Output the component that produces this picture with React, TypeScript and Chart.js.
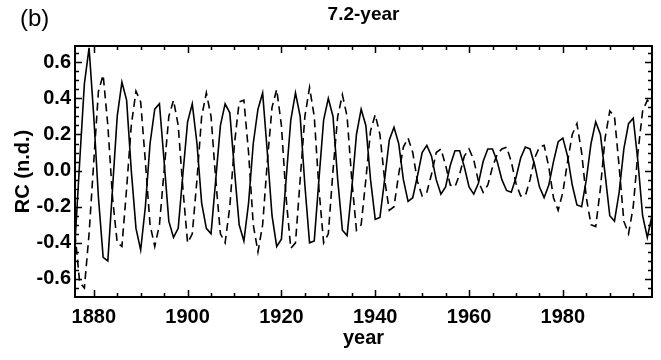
import { useEffect, useRef } from "react";
import { Chart, registerables } from "chart.js";

Chart.register(...registerables);

// Annual sample years of the reconstructed component
const years = [
  1876, 1877, 1878, 1879, 1880, 1881, 1882, 1883, 1884, 1885,
  1886, 1887, 1888, 1889, 1890, 1891, 1892, 1893, 1894, 1895,
  1896, 1897, 1898, 1899, 1900, 1901, 1902, 1903, 1904, 1905,
  1906, 1907, 1908, 1909, 1910, 1911, 1912, 1913, 1914, 1915,
  1916, 1917, 1918, 1919, 1920, 1921, 1922, 1923, 1924, 1925,
  1926, 1927, 1928, 1929, 1930, 1931, 1932, 1933, 1934, 1935,
  1936, 1937, 1938, 1939, 1940, 1941, 1942, 1943, 1944, 1945,
  1946, 1947, 1948, 1949, 1950, 1951, 1952, 1953, 1954, 1955,
  1956, 1957, 1958, 1959, 1960, 1961, 1962, 1963, 1964, 1965,
  1966, 1967, 1968, 1969, 1970, 1971, 1972, 1973, 1974, 1975,
  1976, 1977, 1978, 1979, 1980, 1981, 1982, 1983, 1984, 1985,
  1986, 1987, 1988, 1989, 1990, 1991, 1992, 1993, 1994, 1995,
  1996, 1997, 1998, 1999,
];

// First RC of the 7.2-year pair (solid)
const rcSolid = [
  -0.40, 0.05, 0.48, 0.68, 0.30, -0.15, -0.48, -0.50, -0.10, 0.30,
  0.49, 0.39, 0.00, -0.32, -0.44, -0.20, 0.15, 0.34, 0.37, 0.05,
  -0.28, -0.37, -0.32, -0.02, 0.27, 0.37, 0.15, -0.18, -0.32, -0.35,
  -0.05, 0.25, 0.37, 0.32, 0.00, -0.30, -0.39, -0.18, 0.15, 0.34,
  0.43, 0.10, -0.25, -0.42, -0.38, -0.05, 0.28, 0.43, 0.30, -0.08,
  -0.40, -0.39, -0.05, 0.28, 0.40, 0.30, -0.05, -0.33, -0.36, -0.10,
  0.20, 0.34, 0.25, -0.05, -0.27, -0.26, -0.05, 0.17, 0.24, 0.15,
  -0.05, -0.17, -0.15, -0.03, 0.10, 0.14, 0.08, -0.05, -0.13, -0.09,
  0.03, 0.11, 0.11, 0.02, -0.09, -0.13, -0.07, 0.05, 0.12, 0.12,
  0.05, -0.05, -0.11, -0.12, -0.04, 0.07, 0.13, 0.12, 0.03, -0.09,
  -0.15, -0.08, 0.05, 0.16, 0.18, 0.08, -0.08, -0.19, -0.20, -0.05,
  0.15, 0.27, 0.20, -0.02, -0.25, -0.28, -0.12, 0.12, 0.26, 0.29,
  0.05, -0.25, -0.37, -0.25,
];

// Second RC of the pair (dashed)
const rcDashed = [
  -0.35, -0.62, -0.65, -0.35, 0.05, 0.44, 0.53, 0.25, -0.15, -0.40,
  -0.42, -0.10, 0.25, 0.44, 0.38, 0.05, -0.30, -0.42, -0.30, 0.00,
  0.30, 0.39, 0.25, -0.10, -0.40, -0.35, -0.05, 0.30, 0.43, 0.30,
  -0.05, -0.35, -0.40, -0.20, 0.15, 0.38, 0.39, 0.10, -0.30, -0.45,
  -0.30, 0.05, 0.35, 0.45, 0.25, -0.15, -0.43, -0.40, -0.05, 0.30,
  0.46, 0.30, -0.10, -0.40, -0.35, 0.00, 0.30, 0.42, 0.30, -0.05,
  -0.33, -0.30, -0.05, 0.22, 0.31, 0.20, -0.05, -0.22, -0.20, -0.02,
  0.13, 0.18, 0.10, -0.06, -0.14, -0.12, -0.02, 0.10, 0.12, 0.03,
  -0.08, -0.09, -0.02, 0.08, 0.12, 0.06, -0.06, -0.12, -0.08, 0.02,
  0.09, 0.12, 0.13, 0.05, -0.07, -0.14, -0.14, -0.05, 0.07, 0.13,
  0.14, 0.02, -0.15, -0.22, -0.12, 0.05, 0.20, 0.26, 0.10, -0.15,
  -0.30, -0.31, -0.10, 0.18, 0.33, 0.30, 0.02, -0.28, -0.35, -0.20,
  0.10, 0.33, 0.39, 0.36,
];

const xTickYears = [1880, 1900, 1920, 1940, 1960, 1980];
const yTickValues = [-0.6, -0.4, -0.2, 0.0, 0.2, 0.4, 0.6];

const X_MIN = 1876;
const X_MAX = 1999;
const Y_MIN = -0.7;
const Y_MAX = 0.69;

const FONT = "'Liberation Sans', Arial, Helvetica, sans-serif";

// Box frame with inward major/minor ticks on all four sides, plus panel tag
const framePlugin = {
  id: "idlFrame",
  afterDraw(chart: any) {
    const { ctx, chartArea: a, scales } = chart;
    const xs = scales.x;
    const ys = scales.y;
    ctx.save();
    ctx.strokeStyle = "#000";
    ctx.lineWidth = 2;
    ctx.strokeRect(a.left, a.top, a.right - a.left, a.bottom - a.top);

    ctx.lineWidth = 1.5;
    ctx.beginPath();
    for (let yr = 1880; yr <= X_MAX; yr += 5) {
      const px = Math.round(xs.getPixelForValue(yr)) + 0.5;
      const len = yr % 20 === 0 ? 7 : 4;
      ctx.moveTo(px, a.bottom);
      ctx.lineTo(px, a.bottom - len);
      ctx.moveTo(px, a.top);
      ctx.lineTo(px, a.top + len);
    }
    for (let i = -14; i <= 13; i++) {
      const v = i * 0.05;
      if (v < Y_MIN || v > Y_MAX) continue;
      const py = Math.round(ys.getPixelForValue(v)) + 0.5;
      const len = i % 4 === 0 ? 7 : 4;
      ctx.moveTo(a.left, py);
      ctx.lineTo(a.left + len, py);
      ctx.moveTo(a.right, py);
      ctx.lineTo(a.right - len, py);
    }
    ctx.stroke();

    ctx.fillStyle = "#000";
    ctx.font = `24px ${FONT}`;
    ctx.textBaseline = "middle";
    ctx.textAlign = "left";
    ctx.fillText("(b)", 20, 19);
    ctx.restore();
  },
};

export default function App() {
  const canvasRef = useRef<HTMLCanvasElement | null>(null);

  useEffect(() => {
    if (!canvasRef.current) return;
    const chart = new Chart(canvasRef.current, {
      type: "line",
      data: {
        datasets: [
          {
            data: years.map((x, i) => ({ x, y: rcSolid[i] })),
            borderColor: "#000",
            borderWidth: 1.6,
            pointRadius: 0,
            tension: 0,
            fill: false,
          },
          {
            data: years.map((x, i) => ({ x, y: rcDashed[i] })),
            borderColor: "#000",
            borderWidth: 1.6,
            borderDash: [8, 5],
            pointRadius: 0,
            tension: 0,
            fill: false,
          },
        ],
      },
      options: {
        responsive: false,
        animation: false,
        layout: { padding: { left: 0, right: 9, top: 0, bottom: 0 } },
        plugins: {
          legend: { display: false },
          tooltip: { enabled: false },
          title: {
            display: true,
            text: "7.2-year",
            fullSize: false,
            color: "#000",
            font: { family: FONT, size: 19, weight: "bold" },
            padding: { top: 3, bottom: 20.2 },
          },
        },
        scales: {
          x: {
            type: "linear",
            min: X_MIN,
            max: X_MAX,
            grid: { display: false, drawTicks: false },
            border: { display: false },
            afterBuildTicks: (s: any) => {
              s.ticks = xTickYears.map((value) => ({ value }));
            },
            afterFit: (s: any) => {
              s.height = 63;
            },
            ticks: {
              color: "#000",
              padding: 8,
              maxRotation: 0,
              font: { family: FONT, size: 20, weight: "bold" },
              callback: (v: any) => String(v),
            },
            title: {
              display: true,
              text: "year",
              color: "#000",
              font: { family: FONT, size: 20, weight: "bold" },
              padding: { top: 0, bottom: 10 },
            },
          },
          y: {
            type: "linear",
            min: Y_MIN,
            max: Y_MAX,
            grid: { display: false, drawTicks: false },
            border: { display: false },
            afterBuildTicks: (s: any) => {
              s.ticks = yTickValues.map((value) => ({ value }));
            },
            afterFit: (s: any) => {
              s.width = 75;
            },
            ticks: {
              color: "#000",
              padding: 4,
              font: { family: FONT, size: 20, weight: "bold" },
              callback: (v: any) => Number(v).toFixed(1),
            },
            title: {
              display: true,
              text: "RC (n.d.)",
              color: "#000",
              font: { family: FONT, size: 20, weight: "bold" },
              padding: { top: 11, bottom: 0 },
            },
          },
        },
      },
      plugins: [framePlugin],
    });
    return () => chart.destroy();
  }, []);

  return (
    <div style={{ position: "fixed", left: 0, top: 0, width: 661, height: 360, background: "#fff" }}>
      <canvas ref={canvasRef} width={661} height={360} style={{ display: "block" }} />
    </div>
  );
}
